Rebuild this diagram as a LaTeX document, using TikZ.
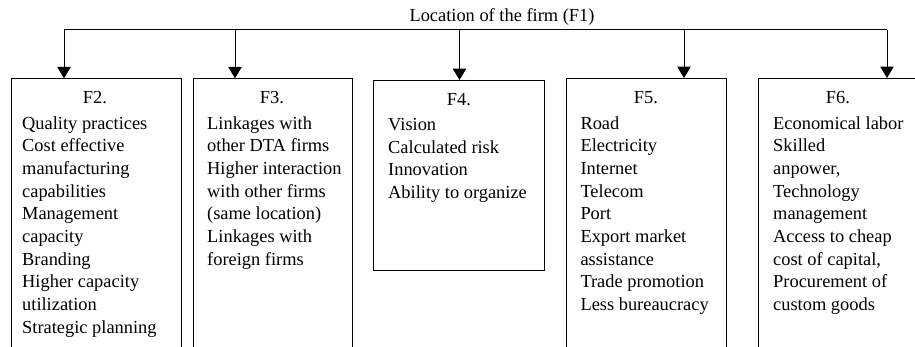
\documentclass[tikz,border=0pt]{standalone}
\usepackage{fontspec}
\setmainfont{Liberation Serif}
\usetikzlibrary{arrows.meta}
\begin{document}
\begin{tikzpicture}[x=1pt,y=-1pt,
  line width=1pt,
  factorbox/.style={draw, inner sep=0, anchor=north west},
  headtxt/.style={anchor=base, inner sep=0},
  % multi-line lists are placed by the baseline of their last line
  itemtxt/.style={anchor=base west, inner sep=0, align=left},
  feed/.style={-{Triangle[width=13.5pt,length=11.5pt]}},
  font=\fontsize{18.4}{22.7}\selectfont]
\useasboundingbox (0,0) rectangle (915,346);
\clip (0,0) rectangle (915,346);

% title
\node[headtxt] (f1) at (502,21) {Location of the firm (F1)};

% factor boxes (open at the bottom edge of the page)
\node[factorbox, minimum width=169.7pt, minimum height=300pt] (b2) at (11.3,78.3) {};
\node[factorbox, minimum width=159pt,   minimum height=300pt] (b3) at (192.7,78.3) {};
\node[factorbox, minimum width=171pt,   minimum height=190pt] (b4) at (373.3,80) {};
\node[factorbox, minimum width=159.7pt, minimum height=300pt] (b5) at (566,78) {};
\node[factorbox, minimum width=180pt,   minimum height=300pt] (b6) at (758.3,78) {};

% distribution bus
\coordinate (a2) at (64,29.5);
\coordinate (a3) at (235,29.5);
\coordinate (a4) at (459.5,29.5);
\coordinate (a5) at (684,29.5);
\coordinate (a6) at (887,29.5);
\draw (a2) -- (a6);
\draw[feed] (a2) -- (a2 |- b2.north);
\draw[feed] (a3) -- (a3 |- b3.north);
\draw[feed] (a4) -- (a4 |- b4.north);
\draw[feed] (a5) -- (a5 |- b5.north);
\draw[feed] (a6) -- (a6 |- b6.north);

% headings
\node[headtxt] (h2) at (95,103.5) {F2.};
\node[headtxt] (h3) at (272,103.5) {F3.};
\node[headtxt] (h4) at (459,105) {F4.};
\node[headtxt] (h5) at (646,103.5) {F5.};
\node[headtxt] (h6) at (838,103.5) {F6.};

% factor lists (first baseline 129, line pitch 22.7)
\node[itemtxt] (t2) at (21.7,333.3) {Quality practices\\Cost effective\\manufacturing\\capabilities\\Management\\capacity\\Branding\\Higher capacity\\utilization\\Strategic planning};
\node[itemtxt] (t3) at (206.7,265.2) {Linkages with\\other DTA firms\\Higher interaction\\with other firms\\(same location)\\Linkages with\\foreign firms};
\node[itemtxt] (t4) at (387.7,198.6) {Vision\\Calculated risk\\Innovation\\Ability to organize};
\node[itemtxt] (t5) at (580,310.6) {Road\\Electricity\\Internet\\Telecom\\Port\\Export market\\assistance\\Trade promotion\\Less bureaucracy};
\node[itemtxt] (t6) at (772.7,310.6) {Economical labor\\Skilled\\anpower,\\Technology\\management\\Access to cheap\\cost of capital,\\Procurement of\\custom goods};
\end{tikzpicture}
\end{document}
